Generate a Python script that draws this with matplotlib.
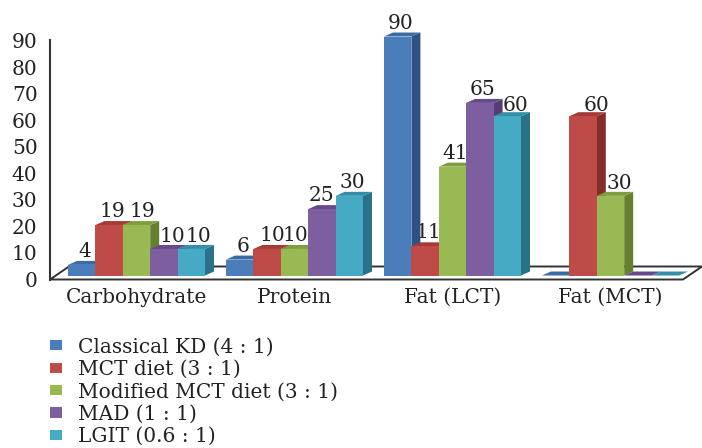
import matplotlib
matplotlib.use("Agg")
import matplotlib.pyplot as plt
from matplotlib.patches import Patch, Polygon

# ================================================================================
categories=["Carbohydrate","Protein","Fat (LCT)","Fat (MCT)"]
series_names=["Classical KD (4 : 1)","MCT diet (3 : 1)","Modified MCT diet (3 : 1)","MAD (1 : 1)","LGIT (0.6 : 1)"]
classical_kd=[4,6,90,0]
mct_diet=[19,10,11,60]
modified_mct=[19,10,41,30]
mad=[10,25,65,0]
lgit=[10,30,60,0]
y_ticks=[0,10,20,30,40,50,60,70,80,90]

front_colors=["#4A7EBB","#BE4B48","#98B954","#7D5FA0","#46AAC5"]
top_colors=["#3B6BA5","#A63A37","#7F9E40","#67488A","#338FA8"]
side_colors=["#2F5286","#842D2B","#66802F","#573C78","#2A7288"]

# label shifts in pixels, (category, series): (right, up)
label_nudge={(0,2):(3,0),(0,3):(5,-1),(0,4):(4,-1),(1,1):(2,0),(1,2):(-2,0),(1,3):(-3,0),
             (2,4):(5,-3),(3,1):(10,-3),(3,2):(6,-1)}

# ================================================================================
W,H=702,448
px_x=158.0    # pixels for one category
px_y=2.655    # pixels for one unit
bar_w=27.4/px_x
dx=9/px_x
dy=4/px_y
base=1.5      # bars stand on the floor, a bit behind the axis

plt.rcParams["font.family"]=["DejaVu Serif"]
text_color="#222222"
fs=14.5

fig=plt.figure(figsize=(W/100,H/100),dpi=100)
left,right,top,bottom=50,683,40.5,279.5
ax=fig.add_axes([left/W,1-bottom/H,(right-left)/W,(bottom-top)/H])
ax.set_xlim((left-136.5)/px_x,(right-136.5)/px_x)
ax.set_ylim(0,90)
ax.patch.set_visible(False)

for s in ["top","right","bottom"]:
  ax.spines[s].set_visible(False)
ax.spines["left"].set_color("#333333")
ax.spines["left"].set_linewidth(1.5)

x0,x1=ax.get_xlim()
floor=Polygon([(x0,0),(x1,0),(x1+19/px_x,13/px_y),(x0+19/px_x,13/px_y)],closed=True,
              facecolor="white",edgecolor="#333333",linewidth=1.4,clip_on=False,zorder=1)
ax.add_patch(floor)

# ================================================================================
all_series=[classical_kd,mct_diet,modified_mct,mad,lgit]
z=2
for c in range(len(categories)):
  for i,vals in enumerate(all_series):
    v=vals[c]
    xl=c+(i-2.5)*bar_w
    xr=xl+bar_w
    yb=base
    yt=base+v
    # side, top, then front so the next bar covers this side
    ax.add_patch(Polygon([(xr,yb),(xr+dx,yb+dy),(xr+dx,yt+dy),(xr,yt)],closed=True,
                         facecolor=side_colors[i],edgecolor="none",clip_on=False,zorder=z))
    ax.add_patch(Polygon([(xl,yt),(xl+dx,yt+dy),(xr+dx,yt+dy),(xr,yt)],closed=True,
                         facecolor=top_colors[i],edgecolor="none",clip_on=False,zorder=z))
    ax.bar(xl+bar_w/2,v,width=bar_w,bottom=base,color=front_colors[i],clip_on=False,zorder=z+0.5)
    z+=1
    if v>0:
      nx,ny=label_nudge.get((c,i),(0,0))
      ax.text(xl+bar_w/2+(3+nx)/px_x,yt+dy+(9.5+ny)/px_y,str(v),ha="center",va="center",
              fontsize=fs,color=text_color,zorder=1.5)

# ================================================================================
ax.set_yticks(y_ticks)
ax.set_xticks(range(len(categories)))
ax.set_xticklabels(categories)
ax.tick_params(axis="both",length=0,labelsize=fs,labelcolor=text_color)
ax.tick_params(axis="y",pad=9)
ax.tick_params(axis="x",pad=6)

handles=[Patch(facecolor=c,edgecolor="none") for c in front_colors]
fig.legend(handles,series_names,loc="upper left",bbox_to_anchor=(50/W,1-337.5/H),frameon=False,
           fontsize=fs,labelspacing=0.17,handlelength=0.6,handleheight=0.4,handletextpad=0.8,
           borderpad=0,borderaxespad=0,labelcolor=text_color)

fig.savefig("out.png",dpi=100)
